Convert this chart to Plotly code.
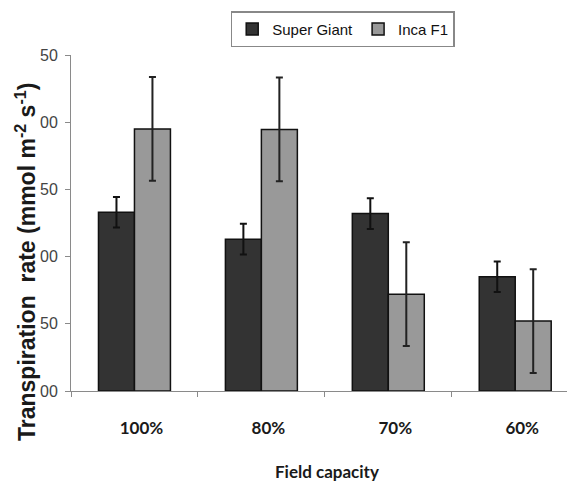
import plotly.graph_objects as go

# Field capacity treatments
categories = ["100%", "80%", "70%", "60%"]

# Transpiration rate per cultivar, with standard-error half-widths
super_giant = [133, 113, 132, 85]
super_giant_err = [11.4, 11.4, 11.4, 11.4]
inca_f1 = [195, 194.6, 72, 52]
inca_f1_err = [38.6, 38.6, 38.6, 38.6]

# Y-axis tick positions and their printed labels
y_ticks = [0, 50, 100, 150, 200, 250]
y_tick_labels = ["00", "50", "00", "50", "00", "50"]

fig = go.Figure()

fig.add_trace(go.Bar(
    name="Super Giant",
    x=categories,
    y=super_giant,
    marker=dict(color="#333333", line=dict(color="#111111", width=1.5)),
    error_y=dict(type="data", array=super_giant_err, color="#111111",
                 thickness=2, width=3.5),
))
fig.add_trace(go.Bar(
    name="Inca F1",
    x=categories,
    y=inca_f1,
    marker=dict(color="#999999", line=dict(color="#111111", width=1.5)),
    error_y=dict(type="data", array=inca_f1_err, color="#222222",
                 thickness=2, width=3.5),
))

fig.update_layout(
    width=567,
    height=489,
    margin=dict(l=71, r=0, t=55, b=98),
    paper_bgcolor="white",
    plot_bgcolor="white",
    barmode="group",
    bargap=0.433,
    bargroupgap=0,
    showlegend=True,
    legend=dict(
        orientation="h",
        x=0.322, xanchor="left",
        y=1.13, yanchor="top",
        bordercolor="#888888",
        borderwidth=1.5,
        bgcolor="white",
        font=dict(family="Liberation Sans", size=15, color="#111111"),
        itemwidth=30,
        tracegroupgap=0,
    ),
    xaxis=dict(
        range=[-0.5, 3.408],
        showline=True,
        linecolor="#8a8a8a",
        linewidth=1,
        ticks="outside",
        tickson="boundaries",
        ticklen=5,
        tickcolor="#8a8a8a",
        showgrid=False,
        tickfont=dict(family="Lato", size=17, color="#1a1a1a", weight="bold"),
        ticklabelstandoff=22,
        ticklabelshift=7,
    ),
    yaxis=dict(
        range=[0, 250],
        tickvals=y_ticks,
        ticktext=y_tick_labels,
        showline=True,
        linecolor="#8a8a8a",
        linewidth=1,
        ticks="outside",
        ticklen=5,
        tickcolor="#8a8a8a",
        showgrid=False,
        zeroline=False,
        tickfont=dict(family="Liberation Sans", size=16, color="#444444"),
        ticklabelstandoff=4,
    ),
    annotations=[
        dict(
            text="Transpiration  rate (mmol m<sup>-2</sup> s<sup>-1</sup>)",
            xref="paper", yref="paper",
            x=-0.092, y=0.385,
            xanchor="center", yanchor="middle",
            textangle=-90,
            showarrow=False,
            font=dict(family="Liberation Sans", size=23, color="#1a1a1a",
                      weight="bold"),
        ),
        dict(
            text="Field capacity",
            xref="paper", yref="paper",
            x=0.516, y=-0.240,
            xanchor="center", yanchor="middle",
            showarrow=False,
            font=dict(family="Lato", size=17, color="#1a1a1a", weight="bold"),
        ),
    ],
)

fig.write_html("out.html")
